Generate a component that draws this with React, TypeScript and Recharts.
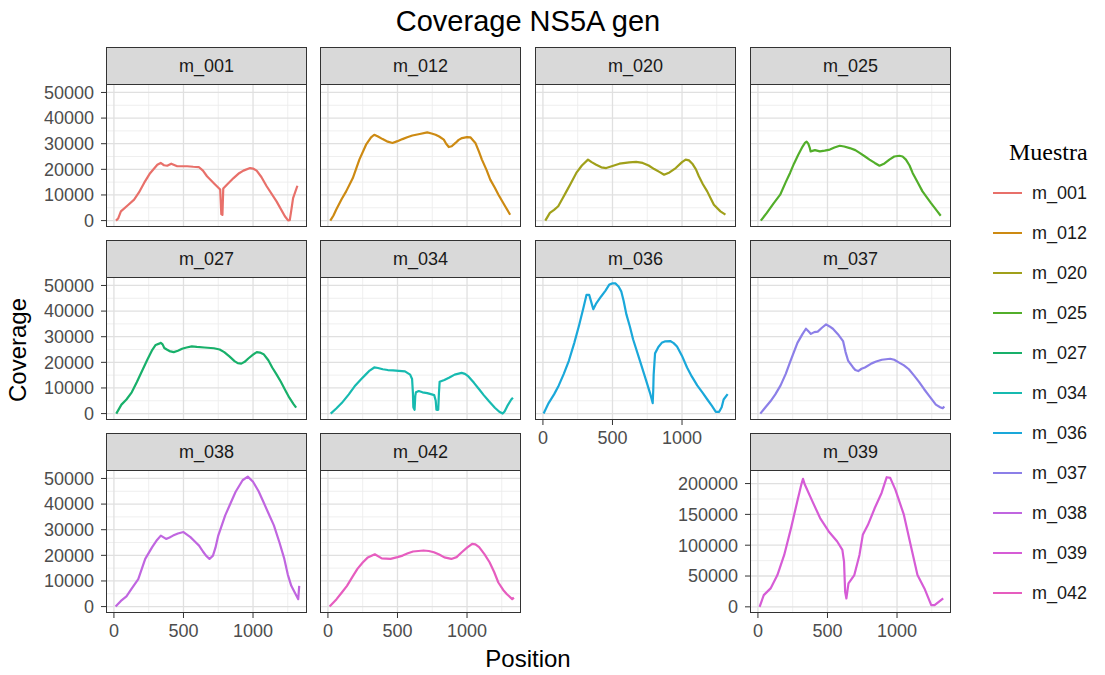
import React from 'react';
import { LineChart, Line, XAxis, YAxis, ReferenceLine } from 'recharts';

// ---------- data ----------
const samples = ['m_001', 'm_012', 'm_020', 'm_025', 'm_027', 'm_034', 'm_036', 'm_037', 'm_038', 'm_039', 'm_042'];
const sampleColors = ['#E8706A', '#CD8A12', '#A0A01A', '#52AE2A', '#18B06A', '#17BAB0', '#1AA8DA', '#8C7FE8', '#C066E0', '#D65CD6', '#E65DBF'];

const m001Pos = [15, 30, 50, 100, 145, 180, 217, 260, 312, 336, 360, 383, 412, 455, 526, 570, 610, 640, 669, 720, 764, 772, 780, 786, 812, 860, 900, 931, 979, 1000, 1026, 1060, 1098, 1169, 1229, 1252, 1264, 1275, 1288, 1319];
const m001Cov = [0, 800, 3600, 6000, 8200, 11000, 14700, 18500, 21800, 22500, 21600, 21400, 22200, 21200, 21200, 21000, 20900, 19500, 17300, 14500, 12100, 2500, 2200, 12500, 14000, 16600, 18500, 19500, 20500, 20300, 19500, 17000, 13400, 7500, 1700, 100, 200, 4000, 8800, 13600];

const m012Pos = [17, 40, 60, 100, 131, 179, 226, 274, 310, 333, 360, 393, 430, 464, 500, 536, 570, 607, 660, 714, 745, 774, 800, 833, 850, 869, 890, 917, 940, 964, 1000, 1024, 1060, 1085, 1107, 1140, 1167, 1200, 1226, 1274, 1310];
const m012Cov = [0, 2000, 4300, 8500, 11400, 16600, 23800, 29600, 32500, 33500, 32800, 31800, 30800, 30300, 31000, 31800, 32500, 33200, 33800, 34400, 34000, 33500, 32800, 31600, 30000, 28700, 29000, 30300, 31500, 32200, 32600, 32500, 30300, 27000, 23800, 19800, 16000, 12800, 10100, 5600, 2300];

const m020Pos = [17, 50, 80, 110, 140, 169, 200, 240, 280, 324, 350, 383, 420, 455, 500, 550, 621, 670, 717, 760, 800, 840, 871, 910, 955, 1000, 1026, 1050, 1074, 1100, 1121, 1150, 1181, 1210, 1229, 1276, 1312];
const m020Cov = [0, 3000, 4200, 5600, 8500, 11400, 14500, 18600, 21500, 23800, 22800, 21800, 20800, 20500, 21300, 22200, 22700, 22900, 22500, 21500, 20100, 18900, 17900, 18800, 20500, 22800, 23800, 23500, 22200, 20000, 17300, 14200, 11400, 8200, 6200, 3600, 2300];

const m025Pos = [21, 64, 110, 160, 200, 231, 260, 290, 320, 338, 350, 362, 372, 379, 410, 445, 480, 517, 550, 588, 620, 660, 700, 731, 770, 802, 840, 874, 910, 945, 980, 1017, 1040, 1064, 1090, 1112, 1150, 1183, 1243, 1290, 1314];
const m025Cov = [0, 3000, 6500, 10100, 15000, 18600, 22300, 25700, 28800, 30300, 30800, 30000, 28500, 27000, 27500, 27000, 27300, 27700, 28500, 29200, 28900, 28300, 27500, 26400, 25000, 23800, 22500, 21400, 22300, 23800, 25000, 25300, 25000, 23800, 21500, 18600, 14800, 11400, 6900, 3600, 1900];

const m027Pos = [17, 54, 90, 128, 165, 202, 240, 276, 300, 325, 337, 350, 362, 380, 399, 430, 460, 490, 522, 560, 596, 650, 719, 760, 793, 830, 867, 890, 916, 940, 966, 1000, 1027, 1050, 1076, 1110, 1138, 1170, 1200, 1230, 1261, 1290, 1310];
const m027Cov = [0, 3500, 5500, 8300, 12300, 16600, 21000, 24900, 26800, 27300, 27600, 27000, 25600, 25000, 24400, 24000, 24500, 25300, 25800, 26200, 26000, 25800, 25500, 25000, 24000, 22300, 20500, 19700, 19500, 20200, 21500, 23000, 24000, 23800, 23200, 20800, 18000, 15200, 12400, 9300, 6200, 3800, 2300];

const m034Pos = [20, 60, 99, 150, 197, 240, 271, 300, 333, 360, 394, 430, 468, 510, 554, 591, 605, 611, 614, 618, 623, 628, 633, 653, 680, 714, 740, 764, 775, 780, 787, 793, 798, 803, 837, 870, 911, 940, 961, 985, 1010, 1050, 1084, 1120, 1158, 1200, 1232, 1256, 1270, 1290, 1318, 1330];
const m034Cov = [0, 2000, 4100, 7500, 11000, 13500, 15200, 16800, 18000, 17800, 17300, 17000, 16900, 16700, 16500, 15200, 13500, 8000, 2500, 2000, 1500, 7000, 8300, 8800, 8300, 8000, 7600, 7200, 5000, 1500, 1400, 1500, 8000, 12400, 13100, 14000, 15200, 15600, 15900, 15500, 14500, 12000, 9700, 7200, 4800, 2300, 700, 0, 800, 3000, 5500, 6200];

const m036Pos = [5, 41, 80, 114, 150, 187, 225, 260, 290, 313, 333, 350, 362, 381, 417, 450, 478, 500, 522, 545, 563, 580, 600, 625, 648, 697, 745, 770, 789, 793, 796, 806, 830, 854, 880, 915, 940, 964, 1000, 1036, 1070, 1109, 1150, 1182, 1215, 1243, 1267, 1285, 1299, 1328];
const m036Cov = [0, 4100, 7500, 11000, 15500, 20700, 27500, 34500, 41000, 46300, 46300, 43000, 40700, 42800, 45600, 48000, 50400, 50800, 50800, 49500, 47700, 44000, 38700, 34000, 29000, 20700, 12400, 8000, 4100, 9000, 15200, 23500, 26000, 27600, 28200, 28300, 27500, 26200, 22500, 18000, 14500, 11000, 8000, 5500, 3000, 700, 700, 2500, 5500, 7600];

const m037Pos = [17, 50, 90, 125, 163, 200, 235, 284, 320, 345, 365, 381, 405, 430, 460, 490, 515, 539, 575, 612, 630, 648, 684, 700, 721, 745, 769, 818, 850, 891, 951, 980, 1012, 1050, 1085, 1120, 1158, 1195, 1231, 1279, 1310, 1328, 1340];
const m037Cov = [0, 2200, 4800, 7500, 11000, 15500, 20700, 27600, 31000, 33100, 32000, 31100, 31800, 32000, 33500, 34800, 34000, 33100, 31000, 28300, 24000, 20700, 18000, 17000, 16600, 17500, 18000, 19600, 20300, 21000, 21400, 21000, 20000, 18800, 17300, 15000, 12400, 9500, 6900, 3500, 2500, 2100, 2800];

const m038Pos = [12, 50, 90, 125, 175, 225, 275, 310, 337, 375, 400, 425, 460, 500, 550, 580, 612, 640, 662, 687, 712, 730, 750, 800, 840, 875, 925, 962, 1000, 1040, 1075, 1110, 1150, 1190, 1225, 1250, 1275, 1300, 1312, 1325, 1332];
const m038Cov = [0, 2200, 4000, 6800, 10700, 18600, 23200, 26000, 27700, 26400, 27000, 27700, 28500, 29100, 27100, 25500, 23800, 21500, 19900, 18600, 19900, 23000, 27700, 35600, 40500, 44800, 49300, 50700, 48700, 45000, 40800, 36500, 31700, 25000, 18600, 12500, 8100, 5500, 4200, 2900, 8100];

const m039Pos = [12, 42, 91, 140, 189, 238, 283, 312, 324, 337, 386, 447, 509, 570, 607, 619, 627, 636, 651, 693, 730, 754, 791, 840, 889, 926, 951, 988, 1049, 1098, 1147, 1197, 1246, 1270, 1307, 1332];
const m039Cov = [0, 19000, 29900, 51600, 84200, 127700, 171200, 198400, 207600, 198400, 173900, 144000, 122300, 106000, 92400, 73400, 24500, 13600, 38000, 51600, 84200, 116800, 133100, 160300, 184800, 210300, 209200, 190200, 149500, 100500, 51600, 29900, 2700, 2700, 9200, 13600];

const m042Pos = [12, 62, 100, 137, 175, 212, 250, 287, 337, 387, 450, 500, 537, 575, 612, 650, 687, 725, 762, 800, 837, 887, 925, 962, 1000, 1037, 1060, 1087, 1125, 1162, 1195, 1225, 1260, 1287, 1325, 1337];
const m042Cov = [0, 2900, 5500, 8100, 11500, 14700, 17200, 19200, 20400, 18800, 18600, 19300, 19900, 20800, 21500, 21700, 21900, 21700, 21200, 20300, 19200, 18600, 19300, 21200, 23000, 24500, 24300, 23200, 20500, 17300, 13500, 9400, 6500, 4800, 2900, 3500];

const xTicks = [0, 500, 1000];
const xMinor = [250, 750, 1250];
const yTicks = [0, 10000, 20000, 30000, 40000, 50000];
const yMinor = [5000, 15000, 25000, 35000, 45000];
const y39Ticks = [0, 50000, 100000, 150000, 200000];
const y39Minor = [25000, 75000, 125000, 175000];

// ---------- layout ----------
const FONT = '"Liberation Sans", Arial, Helvetica, sans-serif';
const COLX = [106, 320, 535, 750];
const ROW_STRIP = [47, 240, 433];
const STRIP_H = 37;
const PW = 201;
const PH = 143;
const AXW = 100;
const AXH = 40;
const X_DOMAIN: [number, number] = [-57, 1388];
const Y_DOMAIN: [number, number] = [-2500, 53300];
const Y39_DOMAIN: [number, number] = [-10000, 222000];

type PanelDef = {
  name: string; pos: number[]; cov: number[]; row: number; col: number;
  showX: boolean; showY: boolean; big?: boolean;
};

const panels: PanelDef[] = [
  { name: 'm_001', pos: m001Pos, cov: m001Cov, row: 0, col: 0, showX: false, showY: true },
  { name: 'm_012', pos: m012Pos, cov: m012Cov, row: 0, col: 1, showX: false, showY: false },
  { name: 'm_020', pos: m020Pos, cov: m020Cov, row: 0, col: 2, showX: false, showY: false },
  { name: 'm_025', pos: m025Pos, cov: m025Cov, row: 0, col: 3, showX: false, showY: false },
  { name: 'm_027', pos: m027Pos, cov: m027Cov, row: 1, col: 0, showX: false, showY: true },
  { name: 'm_034', pos: m034Pos, cov: m034Cov, row: 1, col: 1, showX: false, showY: false },
  { name: 'm_036', pos: m036Pos, cov: m036Cov, row: 1, col: 2, showX: true, showY: false },
  { name: 'm_037', pos: m037Pos, cov: m037Cov, row: 1, col: 3, showX: false, showY: false },
  { name: 'm_038', pos: m038Pos, cov: m038Cov, row: 2, col: 0, showX: true, showY: true },
  { name: 'm_042', pos: m042Pos, cov: m042Cov, row: 2, col: 1, showX: true, showY: false },
  { name: 'm_039', pos: m039Pos, cov: m039Cov, row: 2, col: 3, showX: true, showY: true, big: true },
];

const tickStyle = { fill: '#4D4D4D', fontSize: 18, fontFamily: FONT };

function Panel({ p }: { p: PanelDef }) {
  const left = COLX[p.col];
  const stripTop = ROW_STRIP[p.row];
  const top = stripTop + STRIP_H;
  const data = p.pos.map((x, i) => ({ pos: x, cov: p.cov[i] }));
  const color = sampleColors[samples.indexOf(p.name)];
  const yT = p.big ? y39Ticks : yTicks;
  const yM = p.big ? y39Minor : yMinor;
  const yD = p.big ? Y39_DOMAIN : Y_DOMAIN;
  return (
    <>
      <div style={{ position: 'absolute', left: left - AXW, top, width: PW + AXW, height: PH + AXH }}>
        <LineChart width={PW + AXW} height={PH + AXH} data={data} margin={{ top: 0, right: 0, bottom: 0, left: 0 }}>
          <XAxis
            type="number" dataKey="pos" domain={X_DOMAIN} ticks={xTicks} allowDataOverflow
            height={AXH} axisLine={false}
            tick={p.showX ? tickStyle : false}
            tickLine={p.showX ? { stroke: '#333333' } : false}
            tickSize={5} tickMargin={6} interval={0}
          />
          <YAxis
            type="number" dataKey="cov" domain={yD} ticks={yT} allowDataOverflow
            width={AXW} axisLine={false}
            tick={p.showY ? tickStyle : false}
            tickLine={p.showY ? { stroke: '#333333' } : false}
            tickSize={5} tickMargin={7} interval={0}
          />
          {xMinor.map((v) => (
            <ReferenceLine key={'xm' + v} x={v} stroke="#EDEDED" strokeWidth={0.9} />
          ))}
          {yM.map((v) => (
            <ReferenceLine key={'ym' + v} y={v} stroke="#EDEDED" strokeWidth={0.9} />
          ))}
          {xTicks.map((v) => (
            <ReferenceLine key={'xM' + v} x={v} stroke="#E0E0E0" strokeWidth={1.3} />
          ))}
          {yT.map((v) => (
            <ReferenceLine key={'yM' + v} y={v} stroke="#E0E0E0" strokeWidth={1.3} />
          ))}
          <Line
            type="linear" dataKey="cov" stroke={color} strokeWidth={2.2} dot={false}
            isAnimationActive={false} strokeLinejoin="round"
          />
        </LineChart>
      </div>
      <div
        style={{
          position: 'absolute', left, top, width: PW, height: PH,
          border: '1px solid #333333', boxSizing: 'border-box', pointerEvents: 'none',
        }}
      />
      <div
        style={{
          position: 'absolute', left, top: stripTop, width: PW, height: STRIP_H + 1,
          border: '1px solid #333333', boxSizing: 'border-box', background: '#D9D9D9',
          display: 'flex', alignItems: 'center', justifyContent: 'center',
          fontFamily: FONT, fontSize: 18, color: '#1A1A1A',
        }}
      >
        {p.name}
      </div>
    </>
  );
}

export default function App() {
  return (
    <div style={{ position: 'absolute', left: 0, top: 0, width: 1105, height: 675, background: '#FFFFFF', overflow: 'hidden' }}>
      {panels.map((p) => (
        <Panel key={p.name} p={p} />
      ))}
      <svg width={1105} height={675} style={{ position: 'absolute', left: 0, top: 0, pointerEvents: 'none' }}>
        <text x={528} y={31} textAnchor="middle" fontFamily={FONT} fontSize={29} fill="#000000">
          Coverage NS5A gen
        </text>
        <text x={528} y={667} textAnchor="middle" fontFamily={FONT} fontSize={24} fill="#000000">
          Position
        </text>
        <text
          x={0} y={0} transform="translate(26,350) rotate(-90)" textAnchor="middle"
          fontFamily={FONT} fontSize={24} fill="#000000"
        >
          Coverage
        </text>
        <text x={1009} y={160} fontFamily='"Liberation Serif", "Times New Roman", serif' fontSize={24} fill="#000000">
          Muestra
        </text>
        {samples.map((s, i) => (
          <g key={s}>
            <line x1={993} x2={1022} y1={193 + i * 40} y2={193 + i * 40} stroke={sampleColors[i]} strokeWidth={2} />
            <text x={1032} y={193 + i * 40} dy="0.36em" fontFamily={FONT} fontSize={18} fill="#1A1A1A">
              {s}
            </text>
          </g>
        ))}
      </svg>
    </div>
  );
}
